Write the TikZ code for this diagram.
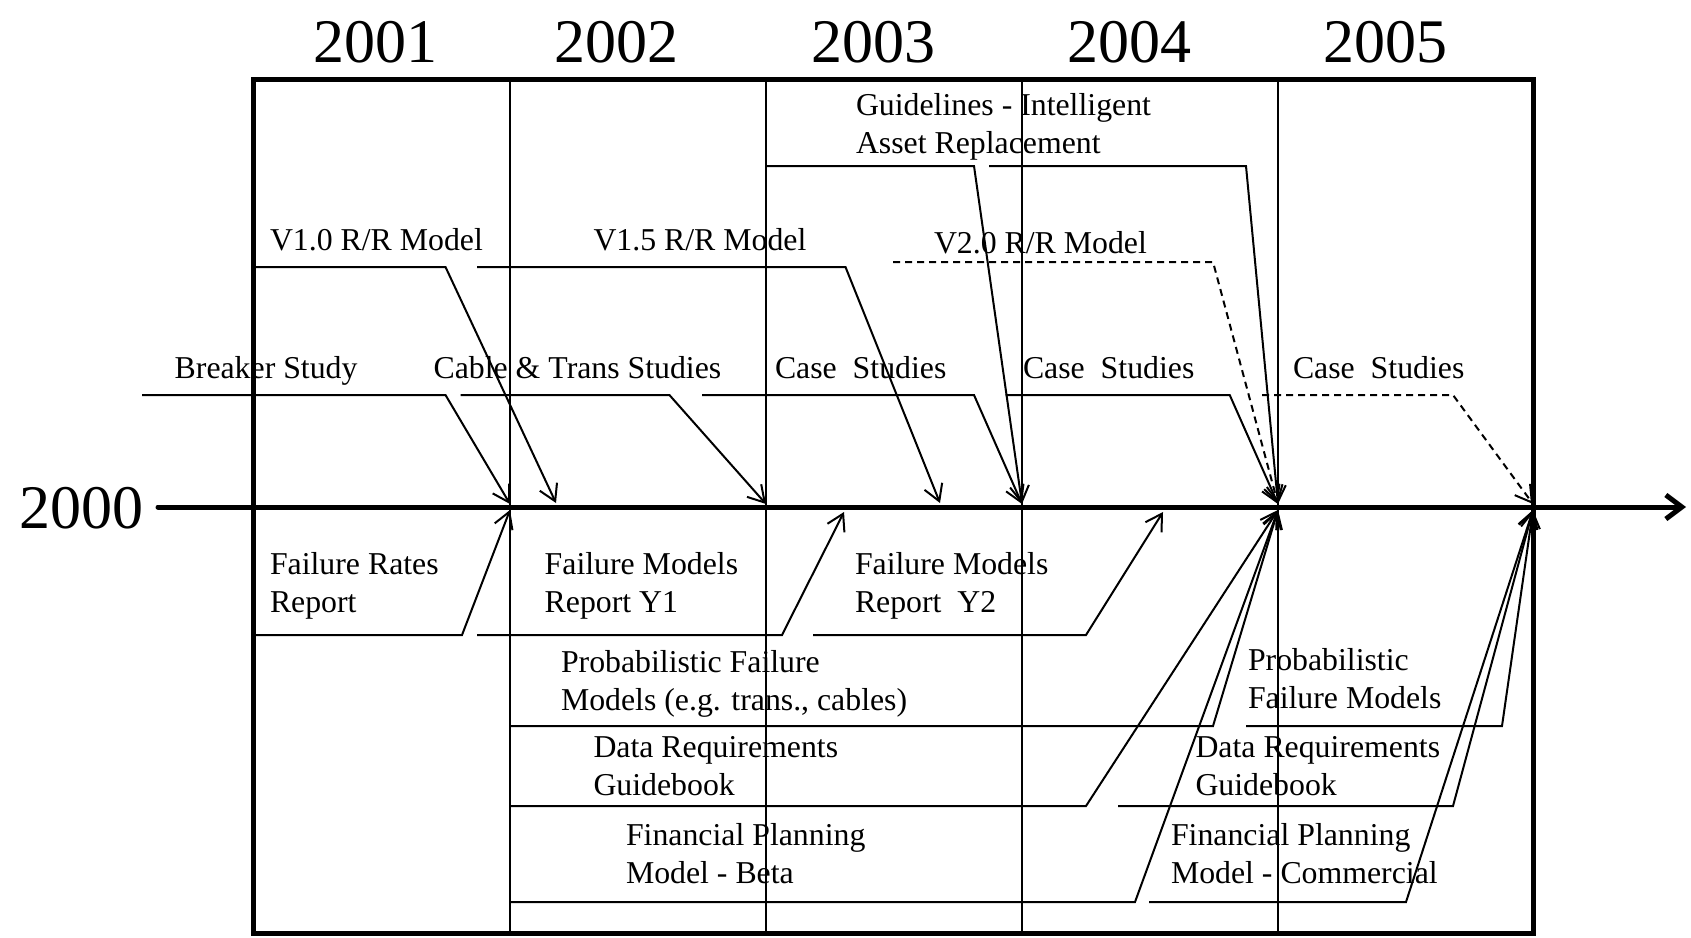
\documentclass[tikz,border=0pt]{standalone}
\usepackage{fontspec}
\setmainfont{Liberation Serif}
\usetikzlibrary{arrows.meta}
\begin{document}
\begin{tikzpicture}[x=0.5pt,y=-0.5pt,
  every node/.style={inner sep=0pt, outer sep=0pt, align=left, anchor=base west,
    font=\fontsize{15.9pt}{19pt}\selectfont},
  year/.style={anchor=base, align=center, font=\fontsize{31pt}{31pt}\selectfont},
  frame/.style={line width=2.5pt},
  divider/.style={line width=1pt},
  conn/.style={line width=1pt, line join=miter, -{Straight Barb[length=8pt,width=9.5pt]}},
  planned/.style={conn, dash pattern=on 3.5pt off 2.5pt},
  axisline/.style={line width=2.5pt, line cap=round, -{Straight Barb[length=8pt,width=12pt]}}
]
% canvas
\fill[white] (0,0) rectangle (1691,937);
\useasboundingbox (0,0) rectangle (1691,937);

% year headings
\node[year] (y2001) at (375.5,62) {2001};
\node[year] (y2002) at (616.5,62) {2002};
\node[year] (y2003) at (873,62) {2003};
\node[year] (y2004) at (1129.6,62) {2004};
\node[year] (y2005) at (1385,62) {2005};
\node[year] (y2000) at (81,528) {2000};

% frame and year dividers
\coordinate (fNW) at (253.5,79);
\coordinate (fSE) at (1533.5,933);
\foreach \x/\n in {510/a,766/b,1022/c,1278/d}{
  \coordinate (dtop-\n) at (\x,79);
  \coordinate (dbot-\n) at (\x,933);
  \draw[divider] (dtop-\n) -- (dbot-\n);
}
\draw[frame] (fNW) rectangle (fSE);

% time axis
\coordinate (axisL) at (158,507);
\coordinate (axisR) at (1686,507);
\draw[axisline] (axisL) -- (axisR);

% arrival points on the axis (from above / from below)
\coordinate (t510) at (510,504);
\coordinate (t556) at (556,503);
\coordinate (t766) at (766,504);
\coordinate (t940) at (940,503);
\coordinate (t1022) at (1022,504);
\coordinate (t1278) at (1278,504);
\coordinate (t1533) at (1533,504);
\coordinate (b510) at (510,510);
\coordinate (b844) at (844,512);
\coordinate (b1163) at (1163,512);
\coordinate (b1278) at (1278,510);
\coordinate (b1533) at (1533,510);

% labels above the axis (two-line labels are placed by their last line)
\node (guide) at (856,153) {Guidelines - Intelligent\\Asset Replacement};
\node (rr10) at (270,250.7) {V1.0 R/R Model};
\node (rr15) at (593.5,250.7) {V1.5 R/R Model};
\node (rr20) at (934,253) {V2.0 R/R Model};
\node (brk) at (174.7,378) {Breaker Study};
\node (cab) at (433.6,378) {Cable \& Trans Studies};
\node (cs3) at (775,378) {Case\ \ Studies};
\node (cs4) at (1023,378) {Case\ \ Studies};
\node (cs5) at (1293,378) {Case\ \ Studies};

% labels below the axis
\node (frr) at (270,612) {Failure Rates\\Report};
\node (fm1) at (544.7,612) {Failure Models\\Report Y1};
\node (fm2) at (855,612) {Failure Models\\Report\ \ Y2};
\node (pfm) at (561,710) {Probabilistic Failure\\Models (e.g. trans., cables)};
\node (drg) at (593.5,795) {Data Requirements\\Guidebook};
\node (fpb) at (626,883) {Financial Planning\\Model - Beta};
\node (pfm5) at (1248,708) {Probabilistic\\Failure Models};
\node (drg5) at (1195.5,795) {Data Requirements\\Guidebook};
\node (fpc) at (1171,883) {Financial Planning\\Model - Commercial};

% leader lines: start, bend
\coordinate (guideA1) at (766,166);   \coordinate (guideB1) at (974,166);
\coordinate (guideA2) at (989,166);   \coordinate (guideB2) at (1246,166);
\coordinate (rr10A) at (256,267);     \coordinate (rr10B) at (445.5,267);
\coordinate (rr15A) at (477,267);     \coordinate (rr15B) at (845.5,267);
\coordinate (rr20A) at (893,262);     \coordinate (rr20B) at (1213,262);
\coordinate (brkA) at (142,395);      \coordinate (brkB) at (445.5,395);
\coordinate (cabA) at (460.7,395);    \coordinate (cabB) at (669.4,395);
\coordinate (cs3A) at (702,395);      \coordinate (cs3B) at (974,395);
\coordinate (cs4A) at (1005.5,395);   \coordinate (cs4B) at (1229.7,395);
\coordinate (cs5A) at (1262,395);     \coordinate (cs5B) at (1453,395);

\coordinate (frrA) at (256,635);      \coordinate (frrB) at (462,635);
\coordinate (fm1A) at (477,635);      \coordinate (fm1B) at (782,635);
\coordinate (fm2A) at (813,635);      \coordinate (fm2B) at (1086,635);
\coordinate (pfmA) at (510,726);      \coordinate (pfmB) at (1213,726);
\coordinate (drgA) at (510,806);      \coordinate (drgB) at (1086,806);
\coordinate (fpbA) at (510,902);      \coordinate (fpbB) at (1135,902);
\coordinate (pfm5A) at (1246,726);    \coordinate (pfm5B) at (1502,726);
\coordinate (drg5A) at (1118,806);    \coordinate (drg5B) at (1453,806);
\coordinate (fpcA) at (1149,902);     \coordinate (fpcB) at (1406,902);

% connectors from above
\draw[conn] (guideA1) -- (guideB1) -- (t1022);
\draw[conn] (guideA2) -- (guideB2) -- (t1278);
\draw[conn] (rr10A) -- (rr10B) -- (t556);
\draw[conn] (rr15A) -- (rr15B) -- (t940);
\draw[planned] (rr20A) -- (rr20B) -- (t1278);
\draw[conn] (brkA) -- (brkB) -- (t510);
\draw[conn] (cabA) -- (cabB) -- (t766);
\draw[conn] (cs3A) -- (cs3B) -- (t1022);
\draw[conn] (cs4A) -- (cs4B) -- (t1278);
\draw[planned] (cs5A) -- (cs5B) -- (t1533);

% connectors from below
\draw[conn] (frrA) -- (frrB) -- (b510);
\draw[conn] (fm1A) -- (fm1B) -- (b844);
\draw[conn] (fm2A) -- (fm2B) -- (b1163);
\draw[conn] (pfmA) -- (pfmB) -- (b1278);
\draw[conn] (drgA) -- (drgB) -- (b1278);
\draw[conn] (fpbA) -- (fpbB) -- (b1278);
\draw[conn] (pfm5A) -- (pfm5B) -- (b1533);
\draw[conn] (drg5A) -- (drg5B) -- (b1533);
\draw[conn] (fpcA) -- (fpcB) -- (b1533);
\end{tikzpicture}
\end{document}
